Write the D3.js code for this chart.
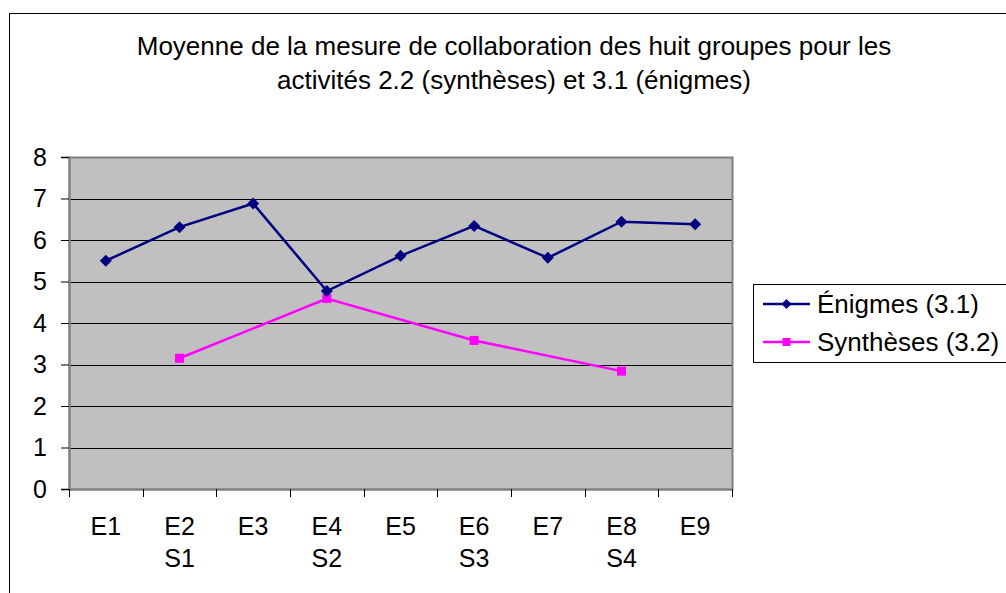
<!DOCTYPE html>
<html>
<head>
<meta charset="utf-8">
<script src="https://cdn.jsdelivr.net/npm/d3@7"></script>
<style>
  html, body { margin: 0; padding: 0; background: #fff; }
  svg { display: block; }
  text { font-family: "Liberation Sans", Arial, sans-serif; fill: #000; }
</style>
</head>
<body>
<script>
// Categories (two-line labels: puzzle session / synthesis session)
const categories = ["E1", "E2", "E3", "E4", "E5", "E6", "E7", "E8", "E9"];
const subLabels  = ["",   "S1", "",   "S2", "",   "S3", "",   "S4", ""];

// Mean collaboration score per session
const enigmes    = [5.50, 6.31, 6.88, 4.77, 5.62, 6.34, 5.57, 6.44, 6.38];
const syntheses  = [null, 3.15, null, 4.59, null, 3.58, null, 2.84, null];

const yTicks = [0, 1, 2, 3, 4, 5, 6, 7, 8];
const titleLines = [
  "Moyenne de la mesure de collaboration des huit groupes pour les",
  "activités 2.2 (synthèses) et 3.1 (énigmes)"
];
const seriesNames = ["Énigmes (3.1)", "Synthèses (3.2)"];

const W = 1006, H = 593;
const plot = { left: 69, right: 732, top: 157, bottom: 489 };
const axisFont = "25px", titleFont = "26px", legendFont = "26px";

const svg = d3.select("body").append("svg")
  .attr("width", W).attr("height", H);

// Outer chart frame
svg.append("rect")
  .attr("x", 9.5).attr("y", 13.5)
  .attr("width", W + 10).attr("height", H + 10)
  .attr("fill", "#fff").attr("stroke", "#000").attr("stroke-width", 1);

// Title
svg.append("g").selectAll("text").data(titleLines).join("text")
  .attr("x", 514).attr("y", (d, i) => 55 + i * 34)
  .attr("text-anchor", "middle")
  .style("font-size", titleFont)
  .text(d => d);

const x = d3.scaleBand().domain(categories).range([plot.left, plot.right]).padding(0);
const y = d3.scaleLinear().domain([0, 8]).range([plot.bottom, plot.top]);
const cx = c => x(c) + x.bandwidth() / 2;

// Plot background
svg.append("rect")
  .attr("x", plot.left).attr("y", plot.top)
  .attr("width", plot.right - plot.left).attr("height", plot.bottom - plot.top)
  .attr("fill", "#c0c0c0");

// Gridlines
svg.append("g").selectAll("line").data(yTicks.filter(t => t > 0 && t < 8)).join("line")
  .attr("x1", plot.left).attr("x2", plot.right)
  .attr("y1", d => Math.round(y(d)) + 0.5).attr("y2", d => Math.round(y(d)) + 0.5)
  .attr("stroke", "#000").attr("stroke-width", 1);

// Plot border
svg.append("rect")
  .attr("x", plot.left + 0.5).attr("y", plot.top + 0.5)
  .attr("width", plot.right - plot.left).attr("height", plot.bottom - plot.top)
  .attr("fill", "none").attr("stroke", "#808080").attr("stroke-width", 2);

// Y axis
const yAxis = svg.append("g")
  .attr("transform", `translate(${plot.left},0)`)
  .call(d3.axisLeft(y).tickValues(yTicks).tickSize(8).tickPadding(14).tickFormat(d3.format("d")));
yAxis.select(".domain").attr("stroke", "#808080").attr("stroke-width", 2);
yAxis.selectAll(".tick line").attr("stroke", "#000");
yAxis.selectAll(".tick text")
  .style("font-size", axisFont).style("font-family", "Liberation Sans, Arial, sans-serif")
  .attr("fill", "#000");

// X axis: ticks at category boundaries
const bounds = categories.map(c => x(c)).concat([plot.right]);
const xAxis = svg.append("g");
xAxis.append("line")
  .attr("x1", plot.left).attr("x2", plot.right)
  .attr("y1", plot.bottom + 0.5).attr("y2", plot.bottom + 0.5)
  .attr("stroke", "#808080").attr("stroke-width", 2);
xAxis.selectAll("line.tk").data(bounds).join("line").attr("class", "tk")
  .attr("x1", d => Math.round(d) + 0.5).attr("x2", d => Math.round(d) + 0.5)
  .attr("y1", plot.bottom).attr("y2", plot.bottom + 8)
  .attr("stroke", "#000");
xAxis.selectAll("text.l1").data(categories).join("text").attr("class", "l1")
  .attr("x", d => cx(d)).attr("y", 535)
  .attr("text-anchor", "middle").style("font-size", axisFont)
  .text(d => d);
xAxis.selectAll("text.l2").data(categories.map((c, i) => ({ c, s: subLabels[i] })).filter(d => d.s))
  .join("text").attr("class", "l2")
  .attr("x", d => cx(d.c)).attr("y", 567)
  .attr("text-anchor", "middle").style("font-size", axisFont)
  .text(d => d.s);

// Series
const navy = "#000080", magenta = "#ff00ff";
const line = d3.line().x(d => cx(d.c)).y(d => y(d.v));

const enData = categories.map((c, i) => ({ c, v: enigmes[i] }));
const syData = categories.map((c, i) => ({ c, v: syntheses[i] })).filter(d => d.v != null);

svg.append("path").datum(syData).attr("d", line)
  .attr("fill", "none").attr("stroke", magenta).attr("stroke-width", 2.5);
svg.append("g").selectAll("rect").data(syData).join("rect")
  .attr("x", d => cx(d.c) - 4.5).attr("y", d => y(d.v) - 4.5)
  .attr("width", 9).attr("height", 9).attr("fill", magenta);

svg.append("path").datum(enData).attr("d", line)
  .attr("fill", "none").attr("stroke", navy).attr("stroke-width", 2.5);
const diamond = s => `M0,${-s}L${s},0L0,${s}L${-s},0Z`;
svg.append("g").selectAll("path").data(enData).join("path")
  .attr("transform", d => `translate(${cx(d.c)},${y(d.v)})`)
  .attr("d", diamond(6)).attr("fill", navy);

// Legend
const lg = svg.append("g");
lg.append("rect")
  .attr("x", 753.5).attr("y", 284.5).attr("width", 300).attr("height", 78)
  .attr("fill", "#fff").attr("stroke", "#000");
const items = [
  { name: seriesNames[0], color: navy, mark: "diamond" },
  { name: seriesNames[1], color: magenta, mark: "square" }
];
items.forEach((it, i) => {
  const yy = 304 + i * 38;
  lg.append("line").attr("x1", 763).attr("x2", 810).attr("y1", yy).attr("y2", yy)
    .attr("stroke", it.color).attr("stroke-width", 2.5);
  if (it.mark === "diamond") {
    lg.append("path").attr("transform", `translate(786.5,${yy})`).attr("d", diamond(5)).attr("fill", it.color);
  } else {
    lg.append("rect").attr("x", 782.5).attr("y", yy - 4).attr("width", 8).attr("height", 8).attr("fill", it.color);
  }
  lg.append("text").attr("x", 817).attr("y", yy + 9).style("font-size", legendFont).text(it.name);
});
</script>
</body>
</html>
